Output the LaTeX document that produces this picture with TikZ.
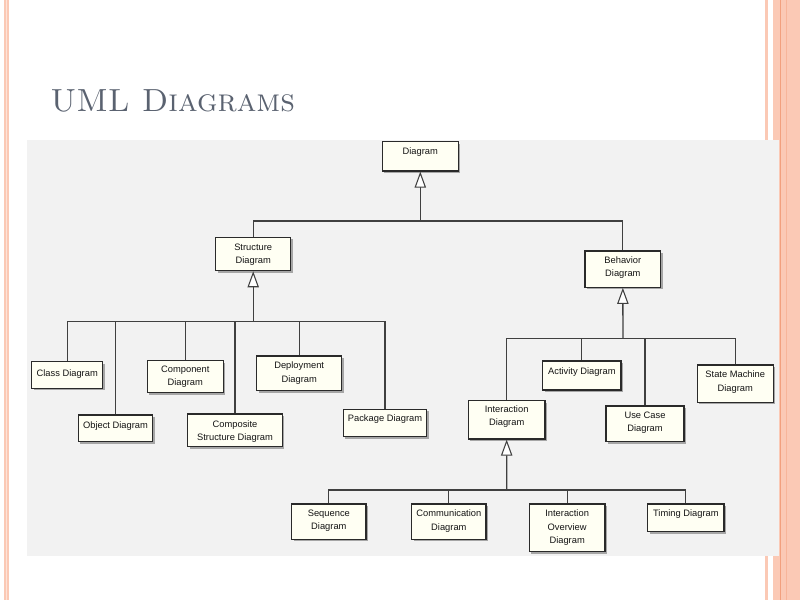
\documentclass[tikz,border=0pt]{standalone}
\usepackage{fontspec}
\newfontfamily\uifont{Liberation Sans}
\usetikzlibrary{arrows.meta,shadows}
\definecolor{panel}{HTML}{F2F2F2}
\definecolor{boxfill}{HTML}{FFFFF3}
\definecolor{boxline}{HTML}{2A2A2A}
\definecolor{stripe}{HTML}{FBC9B5}
\definecolor{stripelight}{HTML}{FDE3D8}
\definecolor{stripedark}{HTML}{F2A07E}
\definecolor{titlecol}{HTML}{5A6270}
\tikzset{
 ubox/.style={draw=boxline, line width=0.9pt, fill=boxfill, inner sep=0pt,
   drop shadow={shadow xshift=1.6pt, shadow yshift=-1.6pt, fill=black!35, opacity=1}},
 utxt/.style={font=\uifont\fontsize{7}{10}\selectfont, align=center, inner sep=0pt, text=black!92},
 conn/.style={draw=black!75, line width=0.95pt},
 gen/.style={conn, -{Triangle[open, fill=white, length=12pt, width=8.5pt, line width=0.8pt]}}
}
\newcommand\umlbox[7]{%
 \node[ubox, minimum width={(#4-#2)*0.75pt}, minimum height={(#5-#3)*0.75pt}] (#1) at ({(#2+#4)/2},{(#3+#5)/2}) {};
 \node[utxt] (#1-t) at ({(#2+#4)/2},{#6+1}) {#7};
}
\begin{document}
\begin{tikzpicture}[x=0.75pt,y=-0.75pt]
\useasboundingbox (0,0) rectangle (800,600);
% slide decorations
\fill[stripe] (4,0) rectangle (9,600);
\fill[stripelight] (6,0) rectangle (7,600);
\fill[stripe] (765,0) rectangle (768,600);
\fill[stripe] (773,0) rectangle (800,600);
\fill[stripedark] (779.5,0) rectangle (781,600);
\fill[stripedark!50!stripe] (785.5,0) rectangle (786.3,600);
% panel
\fill[panel] (26.5,140) rectangle (779,556);
% title
\node[anchor=base west, text=titlecol, font=\fontsize{24}{28}\selectfont, inner sep=0pt] (title) at (50,111) {\textsc{UML Diagrams}};
% boxes
\umlbox{diagram}{382.3}{141.7}{458.3}{171}{150.7}{Diagram}
\umlbox{structure}{215.7}{237.3}{290.7}{270.7}{253.6}{Structure\\Diagram}
\umlbox{behavior}{585}{251}{660.7}{287.3}{266.3}{Behavior\\Diagram}
\umlbox{class}{31.7}{361.7}{102.7}{388.3}{372.7}{Class Diagram}
\umlbox{object}{78.3}{415}{152.7}{441.7}{425}{Object Diagram}
\umlbox{component}{147.3}{360.7}{223.3}{392.7}{375.5}{Component\\Diagram}
\umlbox{composite}{187.7}{414}{282.3}{446.7}{430.3}{Composite\\Structure Diagram}
\umlbox{deployment}{256.7}{356}{341.7}{390.7}{372}{Deployment\\Diagram}
\umlbox{package}{343.3}{409.3}{426.7}{436.7}{418.3}{Package Diagram}
\umlbox{interaction}{468.3}{400.7}{545}{439}{415.7}{Interaction\\Diagram}
\umlbox{activity}{542.7}{361}{621}{390}{371}{Activity Diagram}
\umlbox{usecase}{606}{406}{684}{441.7}{421.7}{Use Case\\Diagram}
\umlbox{statemachine}{697.3}{365}{773.3}{402.3}{381}{State Machine\\Diagram}
\umlbox{sequence}{291.7}{504}{366}{539.3}{520}{Sequence\\Diagram}
\umlbox{communication}{411.7}{504}{486}{539.3}{520}{Communication\\Diagram}
\umlbox{overview}{529.3}{504}{605}{551.7}{526.7}{Interaction\\Overview\\Diagram}
\umlbox{timing}{647.7}{504}{724}{531.7}{513.3}{Timing Diagram}
% junctions
\coordinate (dj) at (420.3,221);
\coordinate (sj) at (253.2,321.7);
\coordinate (bj) at (622.9,338.3);
\coordinate (ij) at (506.7,490);
% generalizations
\draw[conn] (structure.north) |- (dj);
\draw[conn] (behavior.north) |- (dj);
\draw[gen] (dj) -- (diagram.south);
\foreach \c in {class,object,component,composite,deployment,package}
  \draw[conn] (\c.north) |- (sj);
\draw[gen] (sj) -- (structure.south);
\foreach \c in {interaction,activity,usecase,statemachine}
  \draw[conn] (\c.north) |- (bj);
\draw[gen] (bj) -- (behavior.south);
\foreach \c in {sequence,communication,overview,timing}
  \draw[conn] (\c.north) |- (ij);
\draw[gen] (ij) -- (interaction.south);
\end{tikzpicture}
\end{document}
